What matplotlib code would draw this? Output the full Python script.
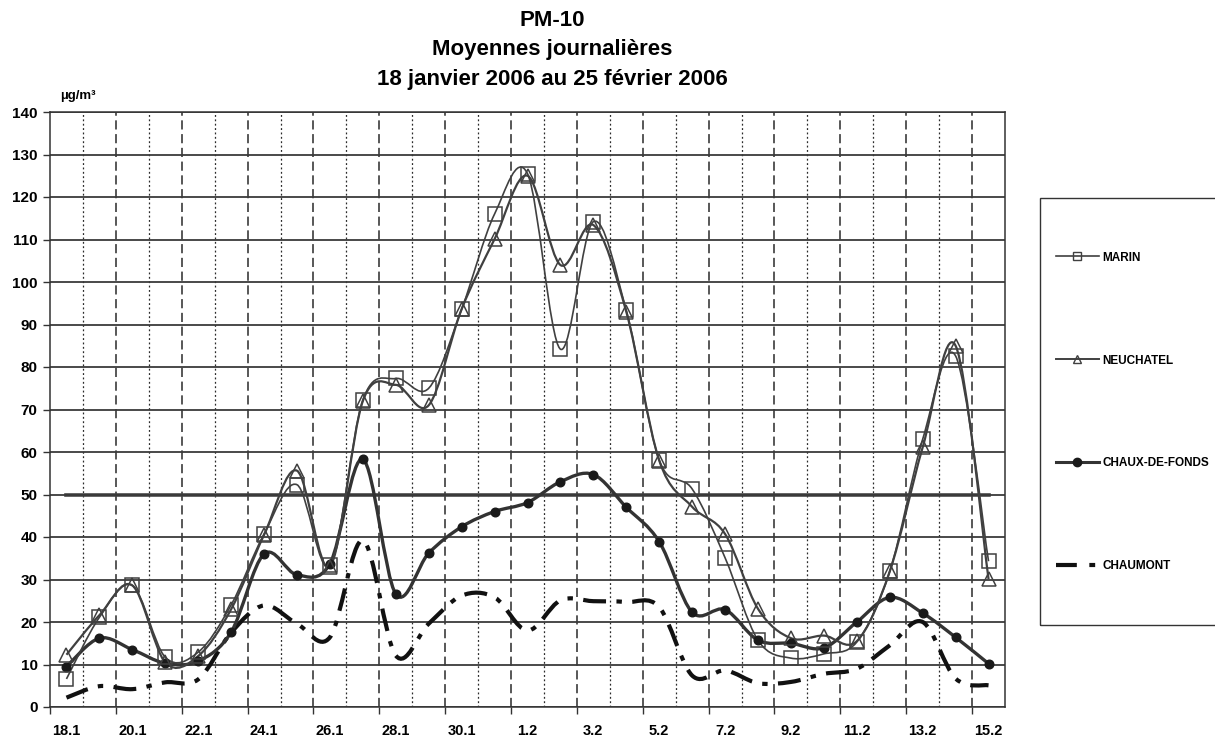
import numpy as np
import matplotlib
matplotlib.use("Agg")
import matplotlib.pyplot as plt
from matplotlib.path import Path
from matplotlib.patches import PathPatch, Rectangle
from matplotlib.lines import Line2D
from matplotlib import font_manager

# ---------------- data ----------------
dates = ["18.1", "19.1", "20.1", "21.1", "22.1", "23.1", "24.1", "25.1", "26.1", "27.1",
         "28.1", "29.1", "30.1", "31.1", "1.2", "2.2", "3.2", "4.2", "5.2", "6.2",
         "7.2", "8.2", "9.2", "10.2", "11.2", "12.2", "13.2", "14.2", "15.2"]

marin = [6.6, 21.1, 28.6, 11.7, 12.9, 24.0, 40.7, 52.3, 33.3, 72.2,
         77.3, 75.0, 93.6, 116.0, 125.5, 84.2, 114.2, 93.3, 58.1, 51.3,
         35.1, 15.7, 11.5, 12.5, 15.3, 31.9, 63.0, 82.6, 34.3]

neuchatel = [12.3, 21.6, 28.6, 10.5, 12.0, 23.0, 40.5, 55.6, 33.0, 72.0,
             75.8, 71.0, 93.6, 110.1, 125.0, 104.0, 113.4, 93.0, 58.0, 47.1,
             40.7, 23.1, 16.2, 16.8, 15.5, 31.9, 61.1, 85.0, 30.1]

chaux = [9.5, 16.2, 13.5, 10.3, 10.8, 17.6, 36.0, 31.1, 33.7, 58.3,
         26.6, 36.2, 42.4, 46.0, 48.1, 53.0, 54.7, 47.0, 38.9, 22.3,
         22.9, 15.7, 15.0, 13.9, 20.0, 25.8, 22.1, 16.4, 10.2]

chaumont = [2.2, 4.9, 4.2, 5.8, 6.5, 17.5, 23.9, 19.6, 16.4, 39.2,
            12.1, 19.6, 26.2, 25.8, 18.0, 25.1, 24.9, 24.7, 23.5, 7.4,
            8.6, 5.6, 5.9, 7.8, 9.0, 14.5, 20.0, 6.7, 5.1]

LIMIT = 50
series_names = ["MARIN", "NEUCHATEL", "CHAUX-DE-FONDS", "CHAUMONT"]
yticks = list(range(0, 141, 10))

# ---------------- helpers ----------------
def smooth_path(x, y, t=1.0 / 6.0):
    pts = np.column_stack([x, y]).astype(float)
    n = len(pts)
    verts = [pts[0]]
    codes = [Path.MOVETO]
    for i in range(n - 1):
        p0 = pts[i - 1] if i > 0 else pts[i]
        p1 = pts[i]
        p2 = pts[i + 1]
        p3 = pts[i + 2] if i + 2 < n else pts[i + 1]
        c1 = p1 + (p2 - p0) * t
        c2 = p2 - (p3 - p1) * t
        verts += [c1, c2, p2]
        codes += [Path.CURVE4] * 3
    return Path(verts, codes)

plt.rcParams["font.family"] = ["Liberation Sans", "DejaVu Sans"]
plt.rcParams["font.weight"] = "bold"

installed = {f.name for f in font_manager.fontManager.ttflist}
narrow = ["Liberation Sans Narrow", "Liberation Sans", "DejaVu Sans"] \
    if "Liberation Sans Narrow" in installed else ["Liberation Sans", "DejaVu Sans"]
xlab_size = 12.5 if "Liberation Sans Narrow" in installed else 10.5

W, H = 1215, 742
fig = plt.figure(figsize=(W / 100, H / 100), dpi=100)
ax = fig.add_axes([50 / W, 1 - 707 / H, (1005 - 50) / W, (707 - 112) / H])

x = np.arange(len(dates))
n = len(dates)
ax.set_xlim(-0.5, n - 0.5)
ax.set_ylim(0, 140)

# gridlines
ax.set_yticks(yticks)
ax.yaxis.grid(True, color="#3a3a3a", lw=1.3, zorder=0)
bounds = np.arange(n + 1) - 0.5
for i, b in enumerate(bounds[1:-1], start=1):
    if i % 2 == 0:
        ax.axvline(b, color="#2a2a2a", lw=1.1, ls=(0, (6, 3)), zorder=0)
    else:
        ax.axvline(b, color="#2a2a2a", lw=0.9, ls=(0, (1.5, 2)), zorder=0)

# limit line
ax.plot(x, [LIMIT] * n, color="#444444", lw=2.6, zorder=1)

grey = "#404040"
# CHAUMONT
ax.add_patch(PathPatch(smooth_path(x, chaumont), fill=False, edgecolor="#111111",
                       lw=3.0, ls=(0, (5.5, 2.5, 1.3, 2.5)), zorder=2))
# CHAUX-DE-FONDS
ax.add_patch(PathPatch(smooth_path(x, chaux), fill=False, edgecolor="#333333",
                       lw=2.4, zorder=3))
ax.plot(x, chaux, ls="none", marker="o", ms=6.2, mfc="#1a1a1a", mec="#1a1a1a", zorder=4)
# NEUCHATEL
ax.add_patch(PathPatch(smooth_path(x, neuchatel), fill=False, edgecolor=grey,
                       lw=1.6, zorder=3))
ax.plot(x, neuchatel, ls="none", marker="^", ms=10, mfc="none", mec=grey, mew=1.1, zorder=4)
# MARIN
ax.add_patch(PathPatch(smooth_path(x, marin), fill=False, edgecolor=grey,
                       lw=1.2, zorder=3))
ax.plot(x, marin, ls="none", marker="s", ms=9.5, mfc="none", mec=grey, mew=1.1, zorder=4)

# ticks
ax.set_xticks(x[::2])
ax.set_xticklabels(dates[::2], fontsize=xlab_size, fontweight="bold", family=narrow)
ax.tick_params(axis="x", which="major", length=0, pad=12)
ax.set_xticks(bounds[::2], minor=True)
ax.tick_params(axis="x", which="minor", length=5, width=1, color="#333333", direction="out")
ax.set_yticklabels([str(v) for v in yticks], fontsize=11, fontweight="bold")
ax.tick_params(axis="y", length=5, width=1, color="#333333", pad=4)

for s in ax.spines.values():
    s.set_color("#333333")
    s.set_linewidth(1.1)

# titles
tx = 552 / W
fig.text(tx, 1 - 20 / H, "PM-10", ha="center", va="center", fontsize=16, fontweight="bold")
fig.text(tx, 1 - 49 / H, "Moyennes journalières", ha="center", va="center", fontsize=16, fontweight="bold")
fig.text(tx, 1 - 79 / H, "18 janvier 2006 au 25 février 2006", ha="center", va="center",
         fontsize=16, fontweight="bold")
fig.text(60 / W, 1 - 96 / H, "µg/m³", ha="left", va="center", fontsize=9.5, fontweight="bold")

# legend
fig.patches.append(Rectangle((1040 / W, 1 - 625 / H), (1240 - 1040) / W, (625 - 198) / H,
                             transform=fig.transFigure, fill=False, edgecolor="#333333",
                             lw=1.0, figure=fig))
handles = [
    Line2D([], [], color=grey, lw=1.2, marker="s", ms=6, mfc="none", mec=grey),
    Line2D([], [], color=grey, lw=1.4, marker="^", ms=6, mfc="none", mec=grey),
    Line2D([], [], color="#333333", lw=2.2, marker="o", ms=6, mfc="#1a1a1a", mec="#1a1a1a"),
    Line2D([], [], color="#111111", lw=3.0, ls=(0, (5.0, 3.0, 1.4, 3.0))),
]
fig.legend(handles, series_names, loc="upper left", bbox_to_anchor=(1045 / W, 1 - 241 / H),
           frameon=False, handlelength=3.7, handletextpad=0.25, labelspacing=7.7,
           prop={"size": 8.5, "weight": "bold"})

fig.savefig("out.png", dpi=100)
